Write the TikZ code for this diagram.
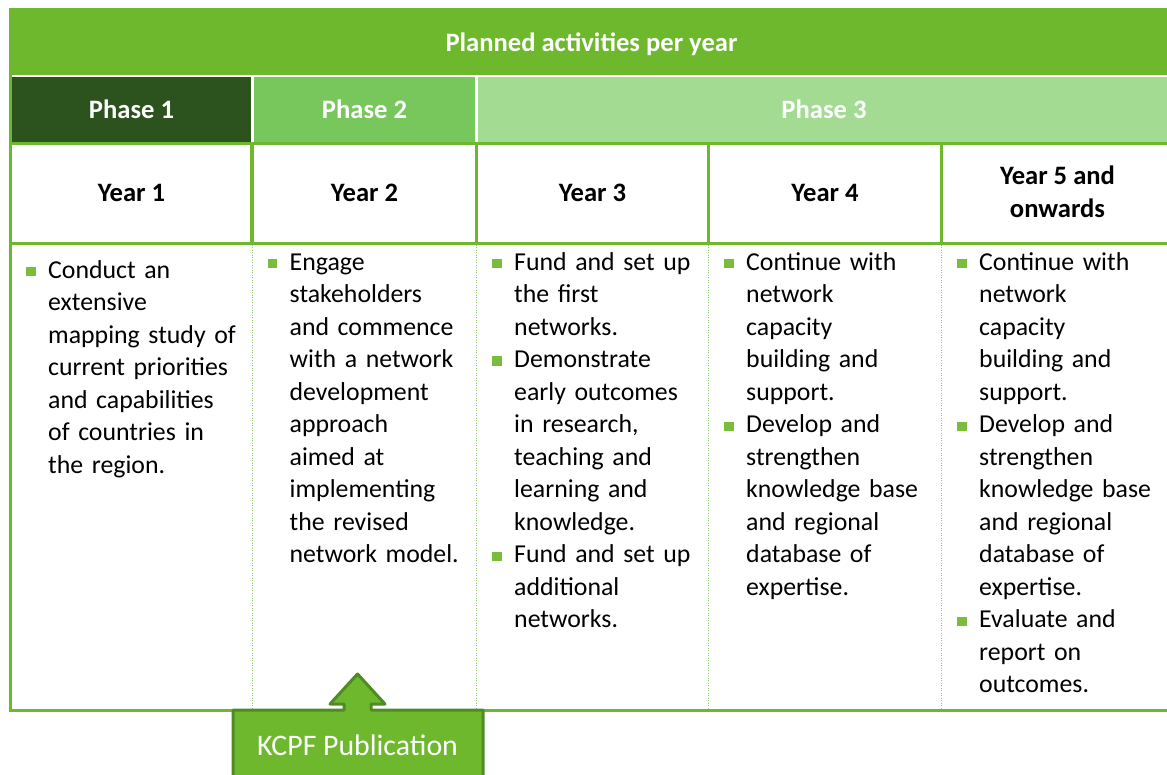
\documentclass[tikz,border=0pt]{standalone}
\usepackage{fontspec}
\setmainfont{Carlito}
\definecolor{tgreen}{RGB}{110,184,46}
\definecolor{phaseA}{RGB}{44,82,29}
\definecolor{phaseB}{RGB}{119,199,92}
\definecolor{phaseC}{RGB}{163,219,146}
\definecolor{dotgreen}{RGB}{140,200,100}
\definecolor{bulgreen}{RGB}{122,188,60}
\definecolor{boxedge}{RGB}{78,140,35}
\newcommand\bodyfnt{\fontsize{25.8}{32.5}\selectfont}
\newcommand\headfnt{\fontsize{26.6}{33}\selectfont\bfseries}
\tikzset{
  gridline/.style={tgreen, line width=3.2pt},
  dotline/.style={dotgreen, line width=1pt, dash pattern=on 1pt off 1.5pt},
  titletxt/.style={anchor=base, inner sep=0, text=white, font=\headfnt},
  yeartxt/.style={anchor=base, inner sep=0, text=black, font=\headfnt, align=center},
  item/.style={anchor=north west, inner sep=0, text width=215pt, align=left, font=\bodyfnt, text=black},
  bulletsq/.style={fill=bulgreen, minimum size=9.4pt, inner sep=0, draw=none},
}
\begin{document}
\begin{tikzpicture}[x=1pt,y=-1pt]
\useasboundingbox (0,0) rectangle (1167,775);
% title band
\fill[tgreen] (9,8) rectangle (1180,75.5);
\node[titletxt] (title) at (591.5,52) {Planned activities per year};
% phase cells
\fill[phaseA] (12,77.5) rectangle (251,141.7);
\fill[phaseB] (254,77.5) rectangle (475,141.7);
\fill[phaseC] (478,77.5) rectangle (1180,141.7);
\node[titletxt] (ph1) at (131.5,119) {Phase 1};
\node[titletxt] (ph2) at (364.5,119) {Phase 2};
\node[titletxt] (ph3) at (824,119) {Phase 3};
% grid lines
\draw[gridline] (10.5,8) -- (10.5,712);
\draw[gridline] (9,143.3) -- (1180,143.3);
\draw[gridline] (9,243.3) -- (1180,243.3);
\draw[gridline] (9,710.5) -- (1180,710.5);
\foreach \xx in {252,476.5,708.5,941.5}{
  \draw[gridline] (\xx,141.7) -- (\xx,245);
  \draw[dotline] (\xx,245) -- (\xx,709);
}
% year headers
\node[yeartxt] (y1) at (131.5,202) {Year 1};
\node[yeartxt] (y2) at (364.5,202) {Year 2};
\node[yeartxt] (y3) at (592.5,202) {Year 3};
\node[yeartxt] (y4) at (825,202) {Year 4};
\node[yeartxt] (y5a) at (1057.5,185) {Year 5 and};
\node[yeartxt] (y5b) at (1057.5,218) {onwards};
% column 1
\node[bulletsq] (b1) at (31,271.7) {};
\node[item] (t1) at (48,255.25) {\strut Conduct an\\extensive\\mapping study of\\current priorities\\and capabilities\\of countries in\\the region.};
% column 2
\node[bulletsq] (b2) at (272.5,263.7) {};
\node[item] (t2) at (289.5,247.25) {\strut Engage\\stakeholders\\and commence\\with a network\\development\\approach\\aimed at\\implementing\\the revised\\network model.};
% column 3
\node[bulletsq] (b3a) at (497,263.7) {};
\node[item] (t3a) at (514,247.25) {\strut Fund and set up\\the first\\networks.};
\node[bulletsq] (b3b) at (497,361.2) {};
\node[item] (t3b) at (514,344.75) {\strut Demonstrate\\early outcomes\\in research,\\teaching and\\learning and\\knowledge.};
\node[bulletsq] (b3c) at (497,556.2) {};
\node[item] (t3c) at (514,539.75) {\strut Fund and set up\\additional\\networks.};
% column 4
\node[bulletsq] (b4a) at (729,263.7) {};
\node[item] (t4a) at (746,247.25) {\strut Continue with\\network\\capacity\\building and\\support.};
\node[bulletsq] (b4b) at (729,426.2) {};
\node[item] (t4b) at (746,409.75) {\strut Develop and\\strengthen\\knowledge base\\and regional\\database of\\expertise.};
% column 5
\node[bulletsq] (b5a) at (962,263.7) {};
\node[item] (t5a) at (979,247.25) {\strut Continue with\\network\\capacity\\building and\\support.};
\node[bulletsq] (b5b) at (962,426.2) {};
\node[item] (t5b) at (979,409.75) {\strut Develop and\\strengthen\\knowledge base\\and regional\\database of\\expertise.};
\node[bulletsq] (b5c) at (962,621.2) {};
\node[item] (t5c) at (979,604.75) {\strut Evaluate and\\report on\\outcomes.};
% KCPF publication callout
\draw[fill=tgreen, draw=boxedge, line width=3pt, line join=round]
  (233,710) -- (344,710) -- (344,704) -- (330,704) -- (357.5,674) -- (385,704)
  -- (371,704) -- (371,710) -- (483,710) -- (483,790) -- (233,790) -- cycle;
\node[anchor=base, inner sep=0, text=white, font=\fontsize{29.8}{34}\selectfont] (kcpf) at (357.5,755.7) {KCPF Publication};
\end{tikzpicture}
\end{document}
